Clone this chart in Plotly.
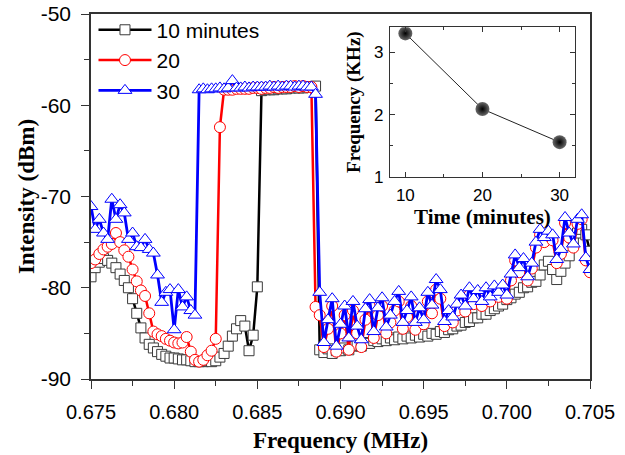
import plotly.graph_objects as go

# ---------------- data ----------------
freq_mhz = [
    0.67500, 0.67525, 0.67550, 0.67575, 0.67600, 0.67625, 0.67650, 0.67675,
    0.67700, 0.67725, 0.67750, 0.67775, 0.67800, 0.67825, 0.67850, 0.67875,
    0.67900, 0.67925, 0.67950, 0.67975, 0.68000, 0.68025, 0.68050, 0.68075,
    0.68100, 0.68125, 0.68150, 0.68175, 0.68200, 0.68225, 0.68250, 0.68275,
    0.68300, 0.68325, 0.68350, 0.68375, 0.68400, 0.68425, 0.68450, 0.68475,
    0.68500, 0.68525, 0.68550, 0.68575, 0.68600, 0.68625, 0.68650, 0.68675,
    0.68700, 0.68725, 0.68750, 0.68775, 0.68800, 0.68825, 0.68850, 0.68875,
    0.68900, 0.68925, 0.68950, 0.68975, 0.69000, 0.69025, 0.69050, 0.69075,
    0.69100, 0.69125, 0.69150, 0.69175, 0.69200, 0.69225, 0.69250, 0.69275,
    0.69300, 0.69325, 0.69350, 0.69375, 0.69400, 0.69425, 0.69450, 0.69475,
    0.69500, 0.69525, 0.69550, 0.69575, 0.69600, 0.69625, 0.69650, 0.69675,
    0.69700, 0.69725, 0.69750, 0.69775, 0.69800, 0.69825, 0.69850, 0.69875,
    0.69900, 0.69925, 0.69950, 0.69975, 0.70000, 0.70025, 0.70050, 0.70075,
    0.70100, 0.70125, 0.70150, 0.70175, 0.70200, 0.70225, 0.70250, 0.70275,
    0.70300, 0.70325, 0.70350, 0.70375, 0.70400, 0.70425, 0.70450, 0.70475,
    0.70500,
]

intensity_10min = [
    -78.8, -77.8, -77.2, -76.8, -77.0, -77.3, -77.8, -78.5, -79.2, -80.0,
    -81.2, -82.8, -84.4, -85.5, -86.2, -86.6, -87.0, -87.3, -87.5, -87.7,
    -87.7, -87.8, -87.9, -87.9, -88.0, -88.1, -88.1, -88.1, -88.0, -88.1,
    -88.0, -87.6, -87.2, -86.4, -85.3, -84.5, -83.6, -84.2, -86.9, -85.2,
    -79.9, -58.4, -58.3, -58.3, -58.3, -58.2, -58.2, -58.2, -58.1, -58.1,
    -58.1, -58.1, -58.0, -58.0, -57.9, -86.8, -87.1, -86.7, -87.2, -86.9,
    -86.9, -86.6, -86.8, -86.4, -86.3, -86.4, -86.0, -86.1, -85.8, -85.9,
    -85.6, -85.8, -85.5, -85.7, -85.4, -85.6, -85.3, -85.5, -85.2, -85.4,
    -85.1, -85.3, -85.0, -85.1, -84.8, -84.9, -84.6, -84.5, -84.2, -84.1,
    -83.8, -83.7, -83.3, -83.3, -82.9, -82.9, -82.5, -82.3, -82.0, -81.8,
    -81.3, -81.1, -80.7, -80.5, -80.0, -79.9, -79.4, -79.3, -78.6, -77.5,
    -77.1, -78.0, -79.1, -78.2, -77.3, -76.5, -74.7, -74.0, -73.6, -74.2,
    -76.0,
]

intensity_20min = [
    -77.3, -76.9, -76.3, -75.8, -75.5, -75.2, -74.0, -75.0, -75.9, -76.6,
    -78.0, -79.3, -80.3, -80.9, -82.8, -84.8, -85.1, -85.3, -85.6, -85.8,
    -86.0, -86.1, -86.0, -85.4, -87.0, -87.9, -88.1, -87.9, -87.4, -86.9,
    -85.6, -62.4, -58.3, -58.3, -58.3, -58.2, -58.2, -58.2, -58.2, -58.1,
    -58.1, -58.2, -58.1, -58.1, -58.0, -58.1, -58.0, -58.0, -58.0, -57.9,
    -58.0, -57.9, -58.0, -58.0, -82.1, -83.0, -86.5, -84.5, -82.0, -87.0,
    -85.0, -83.0, -86.8, -82.5, -85.0, -86.5, -83.5, -82.0, -85.5, -83.0,
    -82.0, -85.0, -83.8, -82.5, -81.5, -84.5, -83.2, -82.0, -84.6, -83.0,
    -84.0, -81.5, -82.8, -80.2, -81.2, -84.2, -83.2, -83.8, -82.5, -81.5,
    -82.6, -80.8, -81.8, -81.0, -82.0, -80.7, -81.5, -80.5, -81.0, -80.2,
    -81.2, -79.2, -77.0, -78.3, -77.5, -79.2, -77.9, -75.6, -74.2, -75.0,
    -74.3, -74.8, -77.3, -76.3, -72.9, -74.5, -75.6, -73.0, -72.5, -77.0,
    -78.3,
]

intensity_30min = [
    -71.1, -73.6, -72.5, -74.0, -74.7, -70.3, -72.5, -70.9, -71.8, -74.7,
    -74.0, -75.5, -75.6, -74.7, -75.8, -76.2, -78.6, -81.6, -80.5, -80.2,
    -84.6, -80.2, -82.1, -81.0, -82.5, -83.0, -58.3, -58.2, -58.3, -58.2,
    -58.2, -58.1, -58.2, -58.1, -57.3, -58.1, -58.1, -58.0, -58.1, -58.0,
    -58.0, -58.0, -58.0, -57.9, -58.0, -57.9, -58.0, -57.9, -57.9, -58.0,
    -57.9, -57.9, -58.0, -58.0, -58.8, -80.5, -86.0, -83.5, -81.2, -86.4,
    -84.0, -82.0, -85.5, -81.5, -84.2, -85.7, -82.3, -81.3, -84.8, -82.2,
    -81.1, -84.3, -83.0, -81.5, -80.4, -83.8, -82.5, -81.0, -83.8, -82.2,
    -83.5, -80.5, -81.9, -79.1, -80.2, -83.7, -82.5, -83.2, -81.8, -80.8,
    -82.0, -80.0, -81.2, -80.3, -81.5, -80.0, -81.0, -79.8, -80.5, -79.7,
    -80.8, -78.5, -76.4, -77.8, -76.8, -78.8, -77.3, -75.0, -73.6, -74.5,
    -73.8, -74.2, -76.9, -75.8, -72.3, -74.0, -75.2, -72.5, -72.0, -76.7,
    -78.0,
]

series_names = ["10 minutes", "20", "30"]

y_tick_vals = [-90, -80, -70, -60, -50]
y_tick_text = ["-90", "-80", "-70", "-60", "-50"]

inset_time_min = [10, 20, 30]
inset_freq_khz = [3.30, 2.09, 1.56]

# ---------------- figure ----------------
SANS = "Liberation Sans, Arial, sans-serif"
SERIF = "Liberation Serif, Times New Roman, serif"
AXC = "#333333"

fig = go.Figure()

styles = [
    dict(line=dict(color="#000000", width=2.5),
         marker=dict(symbol="square", size=10, color="white",
                     line=dict(color="#3a3a3a", width=1))),
    dict(line=dict(color="#ff0000", width=2.5),
         marker=dict(symbol="circle", size=11, color="white",
                     line=dict(color="#ff0000", width=1))),
    dict(line=dict(color="#0000ff", width=2.8),
         marker=dict(symbol="triangle-up", size=12, color="white",
                     line=dict(color="#0000ff", width=1))),
]
for name, vals, st in zip(series_names,
                          [intensity_10min, intensity_20min, intensity_30min],
                          styles):
    fig.add_trace(go.Scatter(x=freq_mhz, y=vals, name=name, mode="lines+markers",
                             xaxis="x", yaxis="y", **st))

fig.add_trace(go.Scatter(
    x=inset_time_min, y=inset_freq_khz, mode="lines+markers", showlegend=False,
    xaxis="x2", yaxis="y2",
    line=dict(color="#222222", width=1),
    marker=dict(size=14, color="#6a6a6a",
                gradient=dict(type="radial", color="#000000"),
                line=dict(width=0)),
))

fig.update_layout(
    width=625, height=455,
    margin=dict(l=91, r=35, t=14, b=76, autoexpand=False),
    paper_bgcolor="white", plot_bgcolor="white",
    font=dict(family=SANS, color="#000000"),
    showlegend=True,
    legend=dict(x=0.005, y=1.012, xanchor="left", yanchor="top",
                bgcolor="rgba(0,0,0,0)", font=dict(size=21, family=SANS),
                itemwidth=53, tracegroupgap=0),
    xaxis=dict(
        domain=[0, 1], range=[0.675, 0.705], tickmode="linear", tick0=0.675, dtick=0.005,
        tickformat=".3f", ticks="outside", ticklen=8, tickwidth=1.3, tickcolor=AXC,
        minor=dict(ticks="outside", ticklen=5, dtick=0.0025, tick0=0.675, tickcolor=AXC, tickwidth=1.3),
        showline=True, linecolor=AXC, linewidth=1.6, mirror=True,
        showgrid=False, zeroline=False,
        tickfont=dict(size=20, family=SANS), ticklabelstandoff=6,
        title=dict(text="<b>Frequency (MHz)</b>", font=dict(size=23, family=SERIF), standoff=10),
        anchor="y", automargin=False,
    ),
    yaxis=dict(
        domain=[0, 1], range=[-90, -50], tickmode="array",
        tickvals=y_tick_vals, ticktext=y_tick_text,
        ticks="outside", ticklen=8, tickwidth=1.3, tickcolor=AXC,
        minor=dict(ticks="outside", ticklen=5, tickmode="linear", dtick=5, tick0=-90,
                   tickcolor=AXC, tickwidth=1.3),
        showline=True, linecolor=AXC, linewidth=1.6, mirror=True,
        showgrid=False, zeroline=False,
        tickfont=dict(size=21, family=SANS), ticklabelstandoff=6,
        title=dict(text="<b>Intensity (dBm)</b>", font=dict(size=23, family=SERIF), standoff=0),
        anchor="x", automargin=False,
    ),
    # top tick decoration of the main frame
    xaxis3=dict(
        overlaying="x", side="top", anchor="y", range=[0, 10],
        tickmode="linear", tick0=0, dtick=2, ticks="inside", ticklen=8,
        tickwidth=1.3, tickcolor=AXC, showticklabels=False,
        minor=dict(ticks="inside", ticklen=5, dtick=1, tick0=0, tickcolor=AXC, tickwidth=1.3),
        showline=False, showgrid=False, zeroline=False,
    ),
    # right tick decoration of the main frame
    yaxis3=dict(
        overlaying="y", side="right", anchor="x", range=[-0.15, 13.35],
        tickmode="linear", tick0=1, dtick=2, ticks="inside", ticklen=8,
        tickwidth=1.3, tickcolor=AXC, showticklabels=False,
        minor=dict(ticks="inside", ticklen=5, dtick=1, tick0=0, tickcolor=AXC, tickwidth=1.3),
        showline=False, showgrid=False, zeroline=False,
    ),
    # inset
    xaxis2=dict(
        domain=[0.599, 0.970], anchor="y2", range=[8, 32],
        tickmode="linear", tick0=0, dtick=10, ticks="inside", ticklen=5,
        tickwidth=1, tickcolor=AXC,
        minor=dict(ticks="inside", ticklen=3, dtick=5, tick0=0, tickcolor=AXC),
        showline=True, linecolor=AXC, linewidth=1.2, mirror="allticks",
        showgrid=False, zeroline=False,
        tickfont=dict(size=17, family=SANS), ticklabelstandoff=2,
        title=dict(text="<b>Time (minutes)</b>", font=dict(size=21, family=SERIF), standoff=3),
        automargin=False,
    ),
    yaxis2=dict(
        domain=[0.553, 0.964], anchor="x2", range=[1, 3.4],
        tickmode="linear", tick0=0, dtick=1, ticks="inside", ticklen=5,
        tickwidth=1, tickcolor=AXC,
        minor=dict(ticks="inside", ticklen=3, dtick=0.5, tick0=0, tickcolor=AXC),
        showline=True, linecolor=AXC, linewidth=1.2, mirror="allticks",
        showgrid=False, zeroline=False,
        tickfont=dict(size=17, family=SANS), ticklabelstandoff=2,
        title=dict(text="<b>Frequency (KHz)</b>", font=dict(size=19, family=SERIF), standoff=8),
        automargin=False,
    ),
)

# remove the browser's default 8px body margin so the 625x455 figure fills the window
fig.write_html(
    "out.html",
    config={"displayModeBar": False},
    post_script="document.body.style.margin='0';document.body.style.overflow='hidden';",
)
